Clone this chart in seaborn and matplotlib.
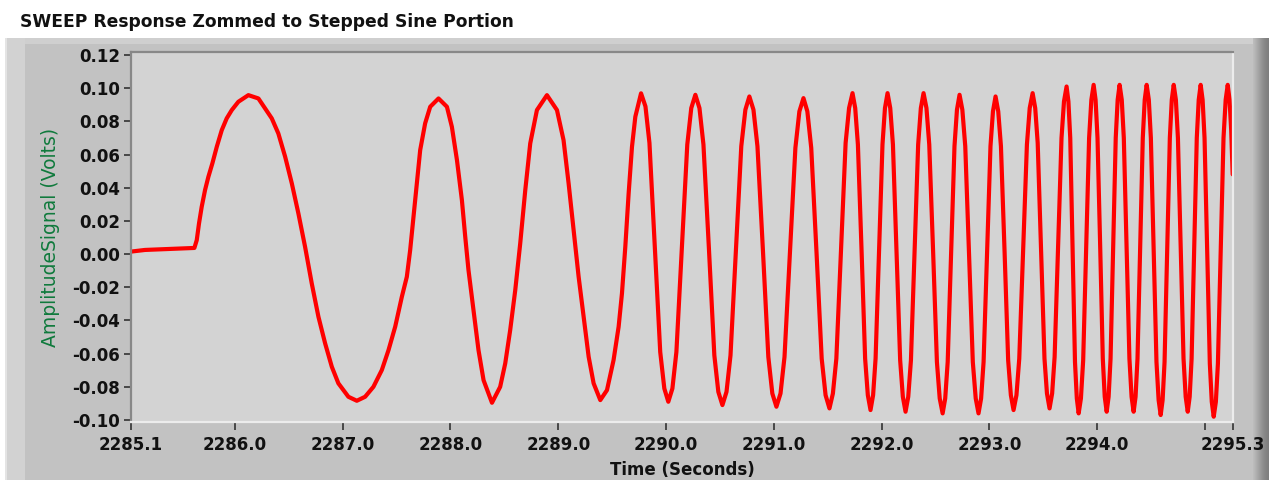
import matplotlib
matplotlib.use("Agg")
import matplotlib.pyplot as plt
from matplotlib.patches import Rectangle
import seaborn as sns
import pandas as pd

# ---------------- data ----------------
time_s = [
    # flat lead-in and first (slow) cycles
    2285.036, 2285.166, 2285.352, 2285.624, 2285.646, 2285.667, 2285.692, 2285.723,
    2285.754, 2285.791, 2285.832, 2285.878, 2285.924, 2285.971, 2286.032, 2286.125,
    2286.218, 2286.280, 2286.342, 2286.403, 2286.466, 2286.528, 2286.589, 2286.651,
    2286.713, 2286.775, 2286.837, 2286.899, 2286.960, 2287.053, 2287.131, 2287.208,
    2287.285, 2287.363, 2287.425, 2287.487, 2287.549, 2287.595, 2287.626, 2287.657,
    2287.688, 2287.719, 2287.765, 2287.812, 2287.889, 2287.967, 2288.013, 2288.060,
    2288.106, 2288.137, 2288.167, 2288.214, 2288.260, 2288.307, 2288.385, 2288.461,
    2288.508, 2288.554, 2288.601, 2288.647, 2288.694, 2288.740, 2288.802, 2288.895,
    2288.988, 2289.049, 2289.096, 2289.142, 2289.189, 2289.235, 2289.282, 2289.328,
    2289.390, 2289.452, 2289.513, 2289.560, 2289.591, 2289.622, 2289.653, 2289.684,
    2289.715, 2289.768,
    # ~2 Hz step
    2289.809, 2289.846, 2289.896, 2289.946, 2289.984, 2290.021,
    2290.059, 2290.096, 2290.147, 2290.197, 2290.234, 2290.272,
    2290.310, 2290.347, 2290.398, 2290.448, 2290.485, 2290.523,
    2290.561, 2290.598, 2290.648, 2290.698, 2290.736, 2290.773,
    2290.811, 2290.848, 2290.899, 2290.949, 2290.986, 2291.024,
    2291.062, 2291.099, 2291.150, 2291.200, 2291.237, 2291.275,
    2291.311, 2291.347, 2291.396, 2291.444, 2291.480, 2291.516,
    2291.548, 2291.580, 2291.623, 2291.666, 2291.698, 2291.730,
    # ~3 Hz step
    2291.755, 2291.780, 2291.814, 2291.847, 2291.872, 2291.897,
    2291.921, 2291.944, 2291.976, 2292.008, 2292.031, 2292.055,
    2292.080, 2292.105, 2292.139, 2292.172, 2292.197, 2292.222,
    2292.247, 2292.272, 2292.306, 2292.339, 2292.364, 2292.389,
    2292.416, 2292.442, 2292.478, 2292.513, 2292.539, 2292.566,
    2292.590, 2292.613, 2292.645, 2292.676, 2292.699, 2292.723,
    2292.749, 2292.776, 2292.811, 2292.846, 2292.873, 2292.899,
    2292.923, 2292.946, 2292.978, 2293.010, 2293.033, 2293.057,
    2293.082, 2293.107, 2293.141, 2293.174, 2293.199, 2293.224,
    2293.251, 2293.277, 2293.313, 2293.348, 2293.374, 2293.401,
    2293.425, 2293.448, 2293.480, 2293.511, 2293.534, 2293.558,
    2293.582, 2293.605, 2293.637, 2293.669, 2293.692, 2293.716,
    # ~4 Hz step
    2293.733, 2293.750, 2293.772, 2293.794, 2293.811, 2293.828,
    2293.849, 2293.870, 2293.898, 2293.925, 2293.946, 2293.967,
    2293.985, 2294.003, 2294.028, 2294.052, 2294.070, 2294.088,
    2294.106, 2294.124, 2294.148, 2294.172, 2294.190, 2294.208,
    2294.228, 2294.247, 2294.273, 2294.299, 2294.319, 2294.338,
    2294.356, 2294.374, 2294.399, 2294.423, 2294.441, 2294.459,
    2294.479, 2294.498, 2294.524, 2294.550, 2294.570, 2294.589,
    2294.607, 2294.625, 2294.650, 2294.674, 2294.692, 2294.710,
    2294.730, 2294.749, 2294.775, 2294.801, 2294.821, 2294.840,
    2294.858, 2294.876, 2294.900, 2294.924, 2294.942, 2294.960,
    2294.978, 2294.996, 2295.021, 2295.045, 2295.063, 2295.081,
    2295.101, 2295.120, 2295.146, 2295.172, 2295.192, 2295.211,
    2295.228, 2295.243, 2295.257,
]

amplitude_v = [
    0.0015, 0.0025, 0.0030, 0.0037, 0.0084, 0.0185, 0.0285, 0.0386,
    0.0466, 0.0547, 0.0647, 0.0747, 0.0818, 0.0868, 0.0918, 0.0958,
    0.0938, 0.0878, 0.0818, 0.0727, 0.0587, 0.0426, 0.0245, 0.0044,
    -0.0177, -0.0378, -0.0538, -0.0679, -0.0779, -0.0860, -0.0884, -0.0860,
    -0.0800, -0.0699, -0.0579, -0.0438, -0.0257, -0.0137, 0.0024, 0.0225,
    0.0426, 0.0627, 0.0788, 0.0888, 0.0938, 0.0888, 0.0767, 0.0567,
    0.0325, 0.0104, -0.0096, -0.0338, -0.0579, -0.0760, -0.0896, -0.0800,
    -0.0659, -0.0458, -0.0217, 0.0064, 0.0386, 0.0667, 0.0868, 0.0958,
    0.0868, 0.0687, 0.0426, 0.0145, -0.0137, -0.0378, -0.0619, -0.0779,
    -0.0880, -0.0820, -0.0639, -0.0438, -0.0237, 0.0044, 0.0366, 0.0647,
    0.0828, 0.0969,
    # ~2 Hz step
    0.089, 0.067, 0.004, -0.059, -0.081, -0.089,
    -0.081, -0.059, 0.004, 0.066, 0.088, 0.096,
    0.088, 0.066, 0.003, -0.061, -0.083, -0.091,
    -0.083, -0.061, 0.002, 0.065, 0.087, 0.095,
    0.087, 0.065, 0.002, -0.062, -0.084, -0.092,
    -0.084, -0.062, 0.001, 0.064, 0.086, 0.094,
    0.086, 0.064, 0.001, -0.063, -0.085, -0.093,
    -0.084, -0.063, 0.002, 0.067, 0.088, 0.097,
    # ~3 Hz step
    0.088, 0.066, 0.002, -0.063, -0.085, -0.094,
    -0.085, -0.063, 0.002, 0.066, 0.088, 0.097,
    0.088, 0.066, 0.001, -0.064, -0.086, -0.095,
    -0.086, -0.064, 0.001, 0.066, 0.088, 0.097,
    0.088, 0.066, 0.001, -0.065, -0.087, -0.096,
    -0.087, -0.065, 0.000, 0.065, 0.087, 0.096,
    0.087, 0.065, 0.000, -0.065, -0.087, -0.096,
    -0.087, -0.065, 0.000, 0.065, 0.086, 0.095,
    0.086, 0.065, 0.001, -0.064, -0.085, -0.094,
    -0.085, -0.063, 0.002, 0.066, 0.088, 0.097,
    0.088, 0.067, 0.002, -0.063, -0.084, -0.093,
    -0.084, -0.062, 0.004, 0.070, 0.092, 0.101,
    # ~4 Hz step
    0.092, 0.070, 0.003, -0.065, -0.087, -0.096,
    -0.087, -0.064, 0.003, 0.070, 0.093, 0.102,
    0.093, 0.070, 0.004, -0.063, -0.086, -0.095,
    -0.086, -0.063, 0.004, 0.070, 0.093, 0.102,
    0.093, 0.070, 0.004, -0.063, -0.086, -0.095,
    -0.086, -0.063, 0.004, 0.070, 0.093, 0.102,
    0.093, 0.070, 0.003, -0.065, -0.088, -0.097,
    -0.088, -0.065, 0.003, 0.070, 0.093, 0.102,
    0.093, 0.070, 0.004, -0.063, -0.086, -0.095,
    -0.086, -0.063, 0.004, 0.070, 0.093, 0.102,
    0.093, 0.070, 0.002, -0.066, -0.089, -0.098,
    -0.089, -0.066, 0.002, 0.070, 0.093, 0.102,
    0.093, 0.075, 0.048,
]

y_tick_values = [0.12, 0.10, 0.08, 0.06, 0.04, 0.02, 0.00,
                 -0.02, -0.04, -0.06, -0.08, -0.10]
y_tick_labels = ["0.12", "0.10", "0.08", "0.06", "0.04", "0.02", "0.00",
                 "-0.02", "-0.04", "-0.06", "-0.08", "-0.10"]
x_tick_values = [2285.036, 2286.0, 2287.0, 2288.0, 2289.0, 2290.0, 2291.0,
                 2292.0, 2293.0, 2294.0, 2295.0, 2295.257]
x_tick_labels = ["2285.1", "2286.0", "2287.0", "2288.0", "2289.0", "2290.0",
                 "2291.0", "2292.0", "2293.0", "2294.0", "", "2295.3"]

title_text = "SWEEP Response Zommed to Stepped Sine Portion"
x_label = "Time (Seconds)"
y_label = "AmplitudeSignal (Volts)"

# ---------------- styling ----------------
sns.set_style("white")
plt.rcParams["font.family"] = ["DejaVu Sans"]
plt.rcParams["axes.unicode_minus"] = False

W, H = 1269, 480
fig = plt.figure(figsize=(W / 100, H / 100), dpi=100)
fig.patch.set_facecolor("white")


def fig_rect(x, y, w, h, color, z=-10):
    r = Rectangle((x / W, 1 - (y + h) / H), w / W, h / H,
                  transform=fig.transFigure, facecolor=color,
                  edgecolor="none", zorder=z)
    fig.add_artist(r)


# LabVIEW-like panel
fig_rect(5, 38, 1264, 442, "#c2c2c2")
fig_rect(5, 38, 1250, 6, "#cfcfcf")
fig_rect(5, 38, 20, 442, "#d2d2d2")
fig_rect(5, 38, 2, 442, "#e4e4e4")
grad = ["#bcbcbc", "#b8b8b8", "#b3b3b3", "#aeaeae", "#a9a9a9", "#a4a4a4",
        "#9f9f9f", "#9a9a9a", "#959595", "#909090", "#8c8c8c", "#888888",
        "#858585", "#828282", "#808080", "#7e7e7e"]
for i, c in enumerate(grad):
    fig_rect(1253 + i, 38, 1.2, 442, c)

ax = fig.add_axes([131 / W, 1 - 422 / H, (1233 - 131) / W, (422 - 52) / H])
ax.set_facecolor("#d3d3d3")

df = pd.DataFrame({"Time": time_s, "Amplitude": amplitude_v})
sns.lineplot(data=df, x="Time", y="Amplitude", ax=ax, sort=False,
             estimator=None, color="#ff0000", linewidth=3.0)

ax.set_xlim(2285.036, 2295.26)
ax.set_ylim(-0.1012, 0.1218)
ax.set_yticks(y_tick_values)
ax.set_yticklabels(y_tick_labels)
ax.set_xticks(x_tick_values)
ax.set_xticklabels(x_tick_labels)

for lbl in ax.get_xticklabels() + ax.get_yticklabels():
    lbl.set_fontweight("bold")
    lbl.set_fontsize(12)
    lbl.set_color("#111111")

ax.tick_params(axis="y", direction="out", length=5, width=1.2,
               color="#333333", pad=3, left=True)
ax.tick_params(axis="x", direction="out", length=6, width=1.2,
               color="#333333", pad=4, bottom=True)

ax.set_xlabel(x_label, fontsize=12, fontweight="bold", color="#111111",
              labelpad=5)
ax.set_ylabel(y_label, fontsize=13.5, color="#0f7a3c", labelpad=9)

for side in ["left", "top"]:
    ax.spines[side].set_color("#888888")
    ax.spines[side].set_linewidth(1.6)
for side in ["right", "bottom"]:
    ax.spines[side].set_color("#ececec")
    ax.spines[side].set_linewidth(1.6)

fig.text(20 / W, 1 - 22 / H, title_text, ha="left", va="center",
         fontsize=12.3, fontweight="bold", color="#111111")

fig.savefig("out.png", dpi=100, facecolor=fig.get_facecolor())
